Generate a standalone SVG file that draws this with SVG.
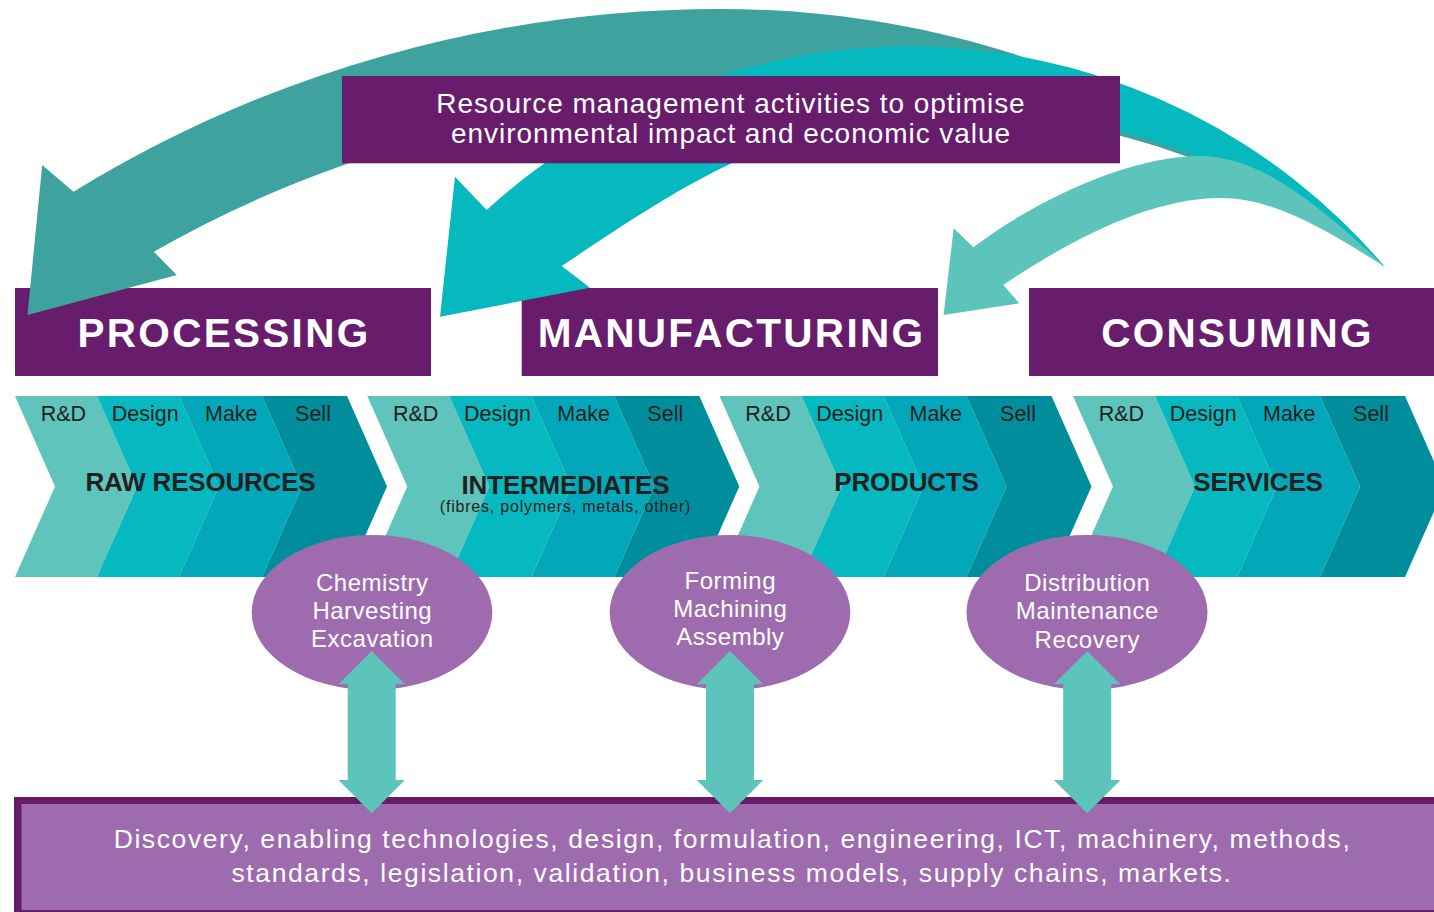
<svg xmlns="http://www.w3.org/2000/svg" xmlns:xlink="http://www.w3.org/1999/xlink" width="1434" height="912" viewBox="0 0 1434 912">
<style>
  text { font-family: "Liberation Sans", Arial, Helvetica, sans-serif; }
  .c0 { fill: #5EC4BC; }
  .c1 { fill: #06B8BF; }
  .c2 { fill: #02A7B9; }
  .c3 { fill: #008E9D; }
  .hdr { fill: #681C6C; }
  .hdrtxt { fill: #FFFFFF; font-weight: bold; font-size: 40.5px; letter-spacing: 2.3px; text-anchor: middle; }
  .lbl { fill: #231F20; font-size: 21.5px; text-anchor: middle; }
  .stage { fill: #231F20; font-weight: bold; font-size: 26px; letter-spacing: -0.2px; text-anchor: middle; }
  .sub { fill: #231F20; font-size: 16px; letter-spacing: 0.8px; text-anchor: middle; }
  .oval { fill: #9E6BAE; }
  .ovaltxt { fill: #FFFFFF; font-size: 24px; letter-spacing: 0.5px; text-anchor: middle; }
  .toptxt { fill: #FFFFFF; font-size: 28px; letter-spacing: 0.95px; text-anchor: middle; }
  .bottxt { fill: #FFFFFF; font-size: 26.5px; letter-spacing: 1.6px; text-anchor: middle; }
  .dbl { fill: #5DC4BC; }
</style>
<defs>
  <g id="chev">
    <polygon class="c0" points="0,396 82,396 122,486.5 82,577 0,577 40,486.5"/>
    <polygon class="c1" points="82,396 164,396 204,486.5 164,577 82,577 122,486.5"/>
    <polygon class="c2" points="164,396 247,396 287,486.5 247,577 164,577 204,486.5"/>
    <polygon class="c3" points="247,396 332,396 372,486.5 332,577 247,577 287,486.5"/>
  </g>
  <path id="dblarrow" class="dbl" d="M0,651 L33.3,684.3 L24,684.3 L24,780 L33.3,780 L0,813.3 L-33.3,780 L-24,780 L-24,684.3 L-33.3,684.3 Z"/>
</defs>

<g id="chevron-raw-resources">
  <use xlink:href="#chev" href="#chev" x="15" y="0"/>
  <text class="lbl" x="63.4" y="421">R&amp;D</text>
  <text class="lbl" x="145.2" y="421">Design</text>
  <text class="lbl" x="231.3" y="421">Make</text>
  <text class="lbl" x="313" y="421">Sell</text>
  <text class="stage" x="200.5" y="491">RAW RESOURCES</text>
</g>
<g id="chevron-intermediates">
  <use xlink:href="#chev" href="#chev" x="367.3" y="0"/>
  <text class="lbl" x="415.7" y="421">R&amp;D</text>
  <text class="lbl" x="497.5" y="421">Design</text>
  <text class="lbl" x="583.6" y="421">Make</text>
  <text class="lbl" x="665.3" y="421">Sell</text>
  <text class="stage" x="565.5" y="494">INTERMEDIATES</text>
  <text class="sub" x="565.5" y="512">(fibres, polymers, metals, other)</text>
</g>
<g id="chevron-products">
  <use xlink:href="#chev" href="#chev" x="719.5" y="0"/>
  <text class="lbl" x="768" y="421">R&amp;D</text>
  <text class="lbl" x="849.7" y="421">Design</text>
  <text class="lbl" x="935.8" y="421">Make</text>
  <text class="lbl" x="1018" y="421">Sell</text>
  <text class="stage" x="906.5" y="491">PRODUCTS</text>
</g>
<g id="chevron-services">
  <use xlink:href="#chev" href="#chev" x="1073" y="0"/>
  <text class="lbl" x="1121.4" y="421">R&amp;D</text>
  <text class="lbl" x="1203.2" y="421">Design</text>
  <text class="lbl" x="1289.3" y="421">Make</text>
  <text class="lbl" x="1371" y="421">Sell</text>
  <text class="stage" x="1258" y="491">SERVICES</text>
</g>

<g id="header-processing">
  <rect class="hdr" x="15" y="288" width="416" height="88"/>
  <text class="hdrtxt" x="224" y="347.3">PROCESSING</text>
</g>
<g id="header-manufacturing">
  <rect class="hdr" x="521.7" y="288" width="416.3" height="88"/>
  <text class="hdrtxt" x="731.5" y="347.3">MANUFACTURING</text>
</g>
<g id="header-consuming">
  <rect class="hdr" x="1029" y="288" width="405" height="88"/>
  <text class="hdrtxt" x="1237.5" y="347.3">CONSUMING</text>
</g>

<g id="connectors">
  <path id="loop-to-processing" fill="#3EA39F" d="M73.5,191.7 A1238,1238 0 0 1 720,9 C940,9 1170,80 1385,267 C1232,151 1080,112.5 950,117.5 C850,115 780,101 720,101 A1146,1146 0 0 0 153.8,251.7 L176.8,275 L27.5,315 L42.2,165 Z"/>
  <path id="loop-to-manufacturing" fill="#05B9BF" d="M486.7,210 A625,625 0 0 1 1385,267 C1230,145 1080,108 950,113 C780,113 670.4,194.6 561.7,266 L590,287.7 L440,316.7 L455,176.7 Z"/>
  <path id="loop-to-consuming" fill="#5DC4BC" d="M973.4,247.3 C1035,200 1130,156 1200,156 C1260,156 1319.8,205 1385,267 C1317.5,224 1270,198 1220,198 C1150,198 1070,240 1003.3,285 L1019.3,303.3 L943.6,315 L953.7,228.3 Z"/>
</g>

<g id="resource-management">
  <rect class="hdr" x="342" y="76" width="778" height="87.3"/>
  <text class="toptxt" x="731" y="113.3">Resource management activities to optimise</text>
  <text class="toptxt" x="731" y="142.7">environmental impact and economic value</text>
</g>

<g id="enablers">
  <rect fill="#651B6A" x="14" y="797" width="1430" height="115"/>
  <rect fill="#9E6BAE" x="21.5" y="804" width="1420" height="106"/>
  <text class="bottxt" x="732.5" y="848.3">Discovery, enabling technologies, design, formulation, engineering, ICT, machinery, methods,</text>
  <text class="bottxt" x="732" y="881.7">standards, legislation, validation, business models, supply chains, markets.</text>
</g>

<g id="activity-processing">
  <ellipse class="oval" cx="372" cy="612.5" rx="120.3" ry="77.5"/>
  <text class="ovaltxt" x="372.3" y="590.7">Chemistry</text>
  <text class="ovaltxt" x="372.3" y="619">Harvesting</text>
  <text class="ovaltxt" x="372.3" y="647.3">Excavation</text>
</g>
<g id="activity-manufacturing">
  <ellipse class="oval" cx="730" cy="612.5" rx="120.3" ry="77.5"/>
  <text class="ovaltxt" x="730.3" y="588.7">Forming</text>
  <text class="ovaltxt" x="730.3" y="617">Machining</text>
  <text class="ovaltxt" x="730.3" y="645.3">Assembly</text>
</g>
<g id="activity-consuming">
  <ellipse class="oval" cx="1087" cy="612.5" rx="120.5" ry="77.5"/>
  <text class="ovaltxt" x="1087.3" y="590.7">Distribution</text>
  <text class="ovaltxt" x="1087.3" y="619">Maintenance</text>
  <text class="ovaltxt" x="1087.3" y="647.5">Recovery</text>
</g>

<g id="connectors-vertical">
  <use xlink:href="#dblarrow" href="#dblarrow" transform="translate(371.7,0)"/>
  <use xlink:href="#dblarrow" href="#dblarrow" transform="translate(730,0)"/>
  <use xlink:href="#dblarrow" href="#dblarrow" transform="translate(1087.2,0)"/>
</g>
</svg>
